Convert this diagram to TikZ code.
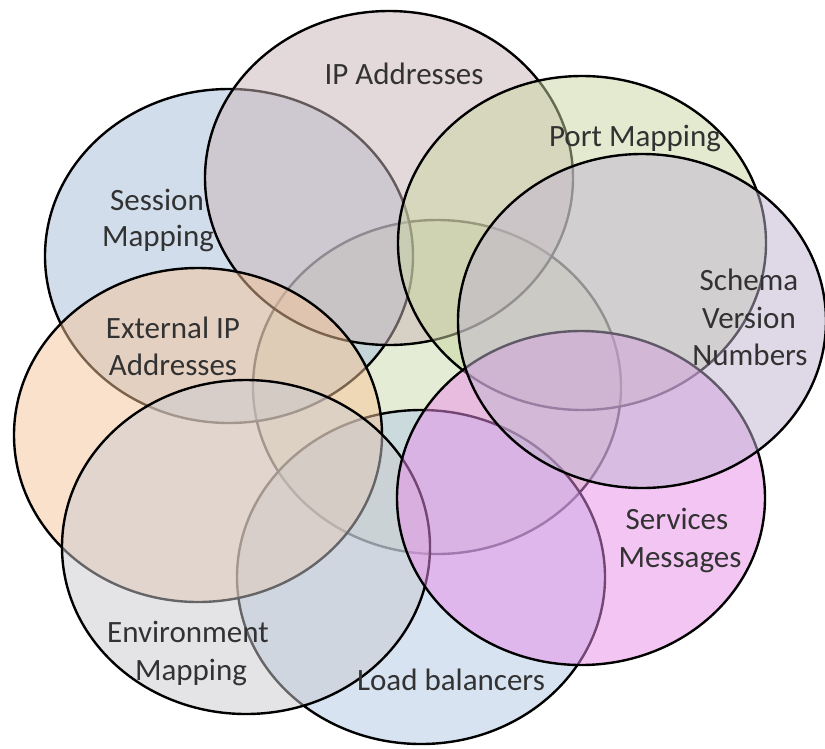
\documentclass[tikz,border=0pt]{standalone}
\usepackage{fontspec}
\setmainfont{Carlito}
\usetikzlibrary{shapes.geometric}
\definecolor{cCenter}{RGB}{205,219,173}
\definecolor{cSession}{RGB}{167,189,217}
\definecolor{cIP}{RGB}{203,181,183}
\definecolor{cPort}{RGB}{201,215,161}
\definecolor{cLoad}{RGB}{177,201,229}
\definecolor{cServices}{RGB}{233,141,233}
\definecolor{cSchema}{RGB}{193,181,209}
\definecolor{cExternal}{RGB}{247,197,153}
\definecolor{cEnv}{RGB}{203,203,209}
\definecolor{txtgray}{RGB}{50,50,50}
\begin{document}
\begin{tikzpicture}[x=1pt,y=-1pt,
  venn/.style={ellipse, draw=black, line width=2.4pt, fill opacity=0.5,
    minimum width=368pt, minimum height=334pt, inner sep=0pt, outer sep=0pt},
  lbl/.style={anchor=base, inner sep=0pt, text=txtgray,
    font=\fontsize{31}{37}\selectfont}]
\useasboundingbox (0,0) rectangle (825,748);
\fill[white] (0,0) rectangle (825,748);
% ellipses, bottom to top
\node[venn, fill=cCenter]   (center)   at (437,387) {};
\node[venn, fill=cSession]  (session)  at (229,256) {};
\node[venn, fill=cIP]       (ip)       at (389,178) {};
\node[venn, fill=cPort]     (port)     at (582,243) {};
\node[venn, fill=cLoad]     (load)     at (421,577) {};
\node[venn, fill=cExternal] (external) at (198,435) {};
\node[venn, fill=cEnv]      (env)      at (246,547) {};
\node[venn, fill=cServices] (services) at (581,498) {};
\node[venn, fill=cSchema]   (schema)   at (642,321) {};
% labels
\node[lbl] (tIP)    at (404,84)  {IP Addresses};
\node[lbl] (tPort)  at (635,146) {Port Mapping};
\node[lbl] (tSessA) at (157,210) {Session};
\node[lbl] (tSessB) at (158,246) {Mapping};
\node[lbl] (tSchA)  at (749,290) {Schema};
\node[lbl] (tSchB)  at (749,328) {Version};
\node[lbl] (tSchC)  at (750,365) {Numbers};
\node[lbl] (tExtA)  at (173,338) {External IP};
\node[lbl] (tExtB)  at (173,375) {Addresses};
\node[lbl] (tSrvA)  at (677,529) {Services};
\node[lbl] (tSrvB)  at (680,567) {Messages};
\node[lbl] (tEnvA)  at (188,642) {Environment};
\node[lbl] (tEnvB)  at (191,680) {Mapping};
\node[lbl] (tLoad)  at (451,690) {Load balancers};
\end{tikzpicture}
\end{document}
